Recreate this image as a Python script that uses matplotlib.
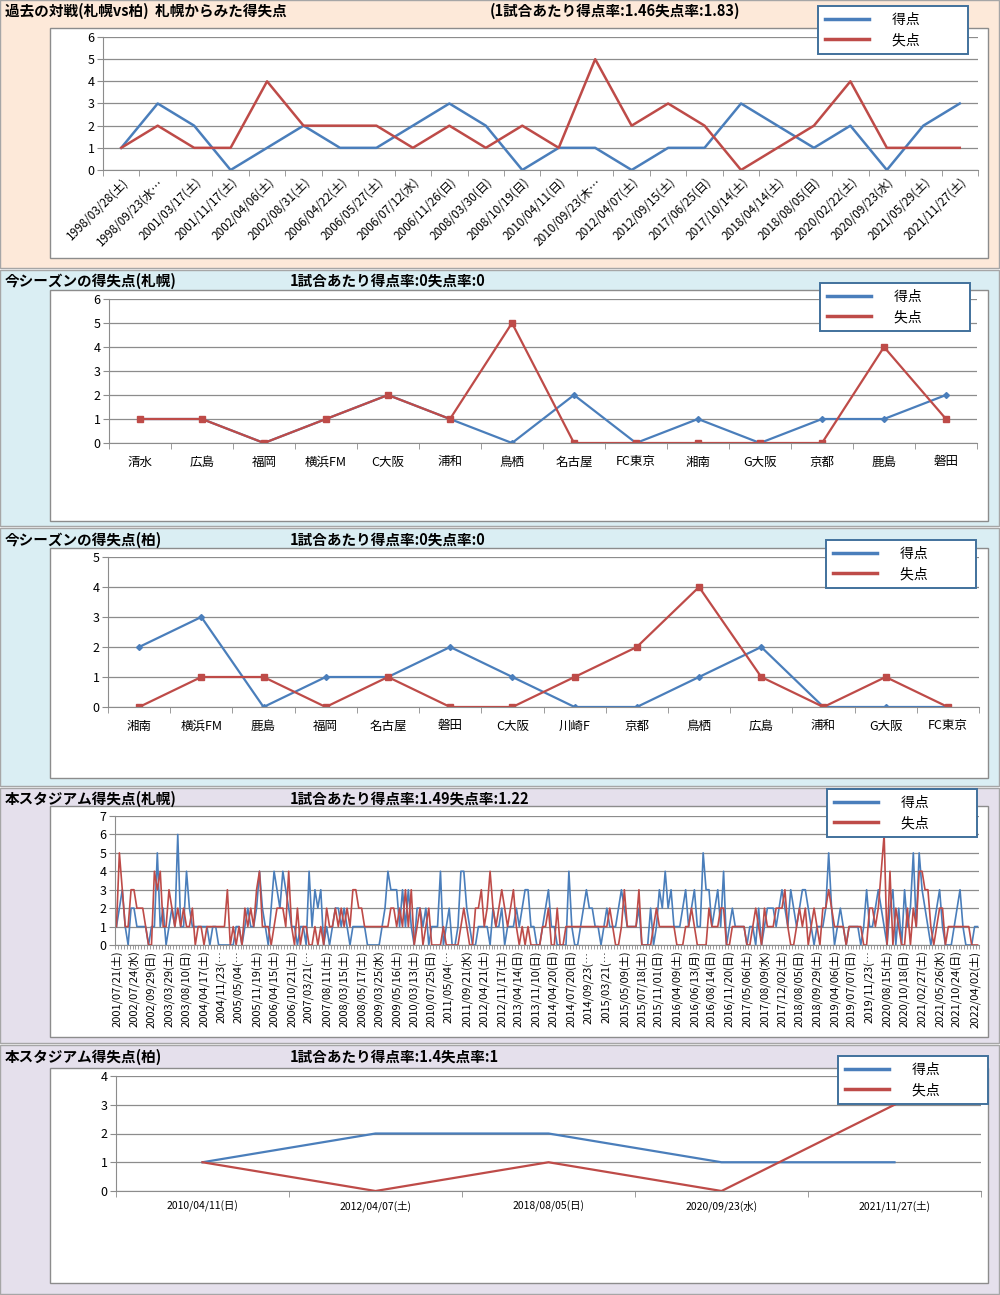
import matplotlib
matplotlib.use("Agg")
import matplotlib.pyplot as plt
from matplotlib.patches import Rectangle
from matplotlib.lines import Line2D

plt.rcParams['font.family'] = ['Noto Sans CJK JP', 'DejaVu Sans']

W, H = 1000, 1295
BLUE = '#4a7ebb'
RED = '#be4b48'
GRID = '#8c8c8c'

# ---- panel 1: past matches (Sapporo vs Kashiwa)
past_dates = ['1998/03/28(土)', '1998/09/23(水…', '2001/03/17(土)', '2001/11/17(土)',
              '2002/04/06(土)', '2002/08/31(土)', '2006/04/22(土)', '2006/05/27(土)',
              '2006/07/12(水)', '2006/11/26(日)', '2008/03/30(日)', '2008/10/19(日)',
              '2010/04/11(日)', '2010/09/23(木…', '2012/04/07(土)', '2012/09/15(土)',
              '2017/06/25(日)', '2017/10/14(土)', '2018/04/14(土)', '2018/08/05(日)',
              '2020/02/22(土)', '2020/09/23(水)', '2021/05/29(土)', '2021/11/27(土)']
past_for = [1, 3, 2, 0, 1, 2, 1, 1, 2, 3, 2, 0, 1, 1, 0, 1, 1, 3, 2, 1, 2, 0, 2, 3]
past_against = [1, 2, 1, 1, 4, 2, 2, 2, 1, 2, 1, 2, 1, 5, 2, 3, 2, 0, 1, 2, 4, 1, 1, 1]

# ---- panel 2: this season (Sapporo)
sap_teams = ['清水', '広島', '福岡', '横浜FM', 'C大阪', '浦和', '鳥栖', '名古屋',
             'FC東京', '湘南', 'G大阪', '京都', '鹿島', '磐田']
sap_for = [1, 1, 0, 1, 2, 1, 0, 2, 0, 1, 0, 1, 1, 2]
sap_against = [1, 1, 0, 1, 2, 1, 5, 0, 0, 0, 0, 0, 4, 1]

# ---- panel 3: this season (Kashiwa)
kas_teams = ['湘南', '横浜FM', '鹿島', '福岡', '名古屋', '磐田', 'C大阪', '川崎F',
             '京都', '鳥栖', '広島', '浦和', 'G大阪', 'FC東京']
kas_for = [2, 3, 0, 1, 1, 2, 1, 0, 0, 1, 2, 0, 0, 0]
kas_against = [0, 1, 1, 0, 1, 0, 0, 1, 2, 4, 1, 0, 1, 0]

# ---- panel 4: this stadium (Sapporo), every match
dome_labels = ['2001/07/21(土)', '2002/07/24(水)', '2002/09/29(日)', '2003/03/29(土)',
               '2003/08/10(日)', '2004/04/17(土)', '2004/11/23(…', '2005/05/04(…',
               '2005/11/19(土)', '2006/04/15(土)', '2006/10/21(土)', '2007/03/21(…',
               '2007/08/11(土)', '2008/03/15(土)', '2008/05/17(土)', '2009/03/25(水)',
               '2009/05/16(土)', '2010/03/13(土)', '2010/07/25(日)', '2011/05/04(…',
               '2011/09/21(水)', '2012/04/21(土)', '2012/11/17(土)', '2013/04/14(日)',
               '2013/11/10(日)', '2014/04/20(日)', '2014/07/20(日)', '2014/09/23(…',
               '2015/03/21(…', '2015/05/09(土)', '2015/07/18(土)', '2015/11/01(日)',
               '2016/04/09(土)', '2016/06/13(月)', '2016/08/14(日)', '2016/11/20(日)',
               '2017/05/06(土)', '2017/08/09(水)', '2017/12/02(土)', '2018/08/05(日)',
               '2018/09/29(土)', '2019/04/06(土)', '2019/07/07(日)', '2019/11/23(…',
               '2020/08/15(土)', '2020/10/18(日)', '2021/02/27(土)', '2021/05/26(水)',
               '2021/10/24(日)', '2022/04/02(土)']
dome_for = (
    [1, 2, 3, 1, 0, 2, 2, 1, 1, 1, 1, 0, 1, 1, 5, 1, 2, 0, 1, 2, 1, 6, 1, 1, 4,
     2, 1, 1, 1, 1, 1, 1, 0, 1, 1, 0, 0, 0, 0, 0, 0, 1, 1, 0, 1, 2, 1, 1, 2, 4]
    + [2, 1, 0, 2, 4, 3, 2, 4, 3, 2, 1, 1, 0, 1, 1, 0, 4, 1, 3, 2, 3, 0, 1, 0, 1,
       2, 2, 1, 2, 1, 0, 1, 1, 1, 1, 1, 0, 0, 0, 0, 0, 1, 2, 4, 3, 3, 3, 1, 3, 1]
    + [3, 1, 0, 2, 2, 1, 2, 0, 1, 1, 1, 4, 0, 1, 2, 0, 0, 1, 4, 4, 2, 1, 0, 0, 1,
       1, 1, 1, 0, 2, 1, 1, 2, 0, 1, 1, 1, 2, 1, 2, 3, 3, 1, 1, 0, 0, 1, 2, 3]
    + [1, 1, 0, 0, 0, 0, 4, 1, 0, 0, 1, 2, 3, 2, 2, 1, 1, 0, 1, 2, 1, 1, 1, 2, 3,
       2, 1, 1, 1, 1, 2, 0, 0, 0, 2, 0, 1, 3, 2, 4, 2, 3, 1, 1, 1, 2, 3, 1, 2, 3]
    + [1, 1, 5, 3, 3, 1, 2, 3, 1, 4, 0, 1, 2, 1, 1, 1, 1, 0, 1, 1, 0, 2, 0, 1, 2,
       2, 2, 1, 2, 3, 2, 1, 3, 2, 1, 2, 3, 3, 2, 1, 0, 1, 1, 1, 2, 5, 2, 0, 1, 2]
    + [1, 0, 1, 1, 1, 1, 0, 1, 3, 1, 1, 2, 3, 2, 1, 0, 2, 3, 0, 2, 0, 3, 1, 2, 5,
       1, 5, 3, 2, 1, 0, 1, 2, 3, 1, 0, 0, 0, 1, 2, 3, 1, 0, 0, 0, 1, 1]
)
dome_against = (
    [1, 5, 3, 1, 1, 3, 3, 2, 2, 2, 1, 0, 0, 4, 3, 4, 1, 1, 3, 2, 1, 2, 1, 2, 1,
     1, 2, 0, 1, 1, 0, 1, 1, 1, 1, 1, 1, 1, 3, 0, 1, 0, 1, 0, 2, 1, 2, 1, 3, 4]
    + [1, 1, 1, 0, 1, 2, 2, 2, 1, 4, 1, 0, 2, 0, 1, 1, 0, 0, 1, 0, 1, 0, 2, 1, 1,
       2, 1, 2, 1, 2, 1, 3, 3, 2, 2, 1, 1, 1, 1, 1, 1, 1, 1, 1, 2, 2, 1, 2, 1, 3]
    + [1, 3, 0, 1, 2, 0, 1, 2, 0, 0, 0, 0, 1, 0, 0, 0, 0, 0, 1, 2, 1, 0, 0, 2, 2,
       3, 1, 2, 4, 2, 1, 2, 3, 2, 1, 2, 3, 1, 0, 1, 0, 1, 0, 0, 0, 0, 1, 1, 2]
    + [0, 0, 2, 0, 0, 1, 1, 1, 1, 1, 1, 1, 1, 1, 1, 1, 1, 1, 1, 1, 2, 1, 0, 0, 1,
       3, 1, 1, 1, 1, 3, 0, 0, 0, 0, 1, 2, 1, 1, 1, 1, 1, 1, 0, 0, 0, 1, 1, 2, 1]
    + [0, 0, 0, 0, 2, 1, 1, 1, 2, 2, 0, 0, 1, 1, 1, 1, 1, 0, 0, 1, 2, 1, 0, 2, 1,
       1, 1, 2, 2, 2, 3, 1, 0, 0, 1, 2, 1, 2, 0, 1, 2, 1, 0, 2, 2, 3, 2, 1, 1, 1]
    + [1, 0, 1, 1, 1, 1, 1, 0, 0, 2, 2, 1, 2, 4, 6, 0, 4, 0, 2, 1, 0, 0, 2, 0, 2,
       1, 4, 4, 3, 3, 1, 0, 1, 2, 2, 0, 1, 1, 1, 1, 1, 1, 1, 1, 0, 0, 0]
)

# ---- panel 5: this stadium (Kashiwa)
kdome_dates = ['2010/04/11(日)', '2012/04/07(土)', '2018/08/05(日)', '2020/09/23(水)', '2021/11/27(土)']
kdome_for = [1, 2, 2, 1, 1]
kdome_against = [1, 0, 1, 0, 3]

fig = plt.figure(figsize=(W / 100, H / 100), dpi=100)


def box(x0, y0, x1, y1):
    return [x0 / W, 1 - y1 / H, (x1 - x0) / W, (y1 - y0) / H]


def rect(x0, y0, x1, y1, fc, ec, z):
    fig.patches.append(Rectangle((x0 / W, 1 - y1 / H), (x1 - x0) / W, (y1 - y0) / H,
                                 transform=fig.transFigure, facecolor=fc,
                                 edgecolor=ec, lw=1, zorder=z))


def title(y, left, right, rx):
    fig.text(5 / W, 1 - y / H, left, fontsize=10.5, fontweight='bold', va='center')
    fig.text(rx / W, 1 - y / H, right, fontsize=10.5, fontweight='bold', va='center')


def legend(x, y):
    hs = [Line2D([], [], color=BLUE, lw=2.5), Line2D([], [], color=RED, lw=2.5)]
    leg = fig.legend(hs, ['得点\u3000\u3000\u3000', '失点\u3000\u3000\u3000'],
                     loc='upper left', bbox_to_anchor=(x / W, 1 - y / H),
                     fancybox=False, framealpha=1, edgecolor='#41719c',
                     fontsize=10, handlelength=3.2, handletextpad=1.6,
                     borderpad=0.5, labelspacing=0.45, borderaxespad=0)
    leg.get_frame().set_linewidth(1.4)
    leg.set_zorder(10)


def setup(ax, n, ymax, labels, pos, rot, fs, pad):
    ax.set_xlim(-0.5, n - 0.5)
    ax.set_ylim(0, ymax)
    ax.set_yticks(range(ymax + 1))
    ax.grid(axis='y', color=GRID, lw=0.9)
    ax.set_axisbelow(True)
    ax.patch.set_alpha(0)
    for s in ['top', 'right']:
        ax.spines[s].set_visible(False)
    for s in ['left', 'bottom']:
        ax.spines[s].set_color(GRID)
    ax.set_xticks(pos)
    if rot == 45:
        ax.set_xticklabels(labels, rotation=45, ha='right', va='top',
                           rotation_mode='anchor', fontsize=fs)
    elif rot == 90:
        ax.set_xticklabels(labels, rotation=90, ha='center', va='top', fontsize=fs)
    else:
        ax.set_xticklabels(labels, fontsize=fs)
    ax.tick_params(axis='x', which='major', length=0, pad=pad)
    ax.set_xticks([k - 0.5 for k in range(n + 1)], minor=True)
    ax.tick_params(axis='x', which='minor', length=4, color=GRID)
    ax.tick_params(axis='y', length=4, color=GRID, labelsize=9, pad=2)


# section backgrounds
rect(0, 0, 999, 268, '#fde9d9', '#a6a6a6', -5)
rect(0, 270, 999, 526, '#daeef3', '#a6a6a6', -5)
rect(0, 528, 999, 786, '#daeef3', '#a6a6a6', -5)
rect(0, 788, 999, 1043, '#e5e0ec', '#a6a6a6', -5)
rect(0, 1045, 999, 1294, '#e5e0ec', '#a6a6a6', -5)
# white chart boxes
for y0, y1 in [(28, 258), (290, 521), (548, 778), (806, 1037), (1068, 1283)]:
    rect(50, y0, 988, y1, 'white', '#8c8c8c', -4)

# panel 1
ax1 = fig.add_axes(box(103, 37, 978, 170))
n = len(past_dates)
ax1.plot(range(n), past_for, color=BLUE, lw=1.8)
ax1.plot(range(n), past_against, color=RED, lw=1.8)
setup(ax1, n, 6, past_dates, range(n), 45, 8.5, 4)
title(11, '過去の対戦(札幌vs柏)  札幌からみた得失点', '(1試合あたり得点率:1.46失点率:1.83)', 490)
legend(818, 6)

# panel 2
ax2 = fig.add_axes(box(109, 299, 977, 443))
n = len(sap_teams)
ax2.plot(range(n), sap_for, color=BLUE, lw=1.6, marker='D', ms=3)
ax2.plot(range(n), sap_against, color=RED, lw=1.6, marker='s', ms=4.5)
setup(ax2, n, 6, sap_teams, range(n), 0, 9, 9)
title(281, '今シーズンの得失点(札幌)', '1試合あたり得点率:0失点率:0', 290)
legend(820, 283)

# panel 3
ax3 = fig.add_axes(box(108, 557, 979, 707))
n = len(kas_teams)
ax3.plot(range(n), kas_for, color=BLUE, lw=1.6, marker='D', ms=3)
ax3.plot(range(n), kas_against, color=RED, lw=1.6, marker='s', ms=4)
setup(ax3, n, 5, kas_teams, range(n), 0, 9, 9)
title(540, '今シーズンの得失点(柏)', '1試合あたり得点率:0失点率:0', 290)
legend(826, 540)

# panel 4
ax4 = fig.add_axes(box(115, 816, 979, 945))
n = len(dome_for)
ax4.plot(range(n), dome_for, color=BLUE, lw=1.2)
ax4.plot(range(n), dome_against, color=RED, lw=1.2)
setup(ax4, n, 7, dome_labels, range(0, n, 6)[:len(dome_labels)], 90, 8, 4)
ax4.tick_params(axis='x', which='minor', length=3)
title(799, '本スタジアム得失点(札幌)', '1試合あたり得点率:1.49失点率:1.22', 290)
legend(827, 789)

# panel 5
ax5 = fig.add_axes(box(116, 1076, 981, 1191))
n = len(kdome_dates)
ax5.plot(range(n), kdome_for, color=BLUE, lw=1.6)
ax5.plot(range(n), kdome_against, color=RED, lw=1.6)
setup(ax5, n, 4, kdome_dates, range(n), 0, 7.5, 7)
title(1057, '本スタジアム得失点(柏)', '1試合あたり得点率:1.4失点率:1', 290)
legend(838, 1056)

fig.savefig('out.png', dpi=100)
